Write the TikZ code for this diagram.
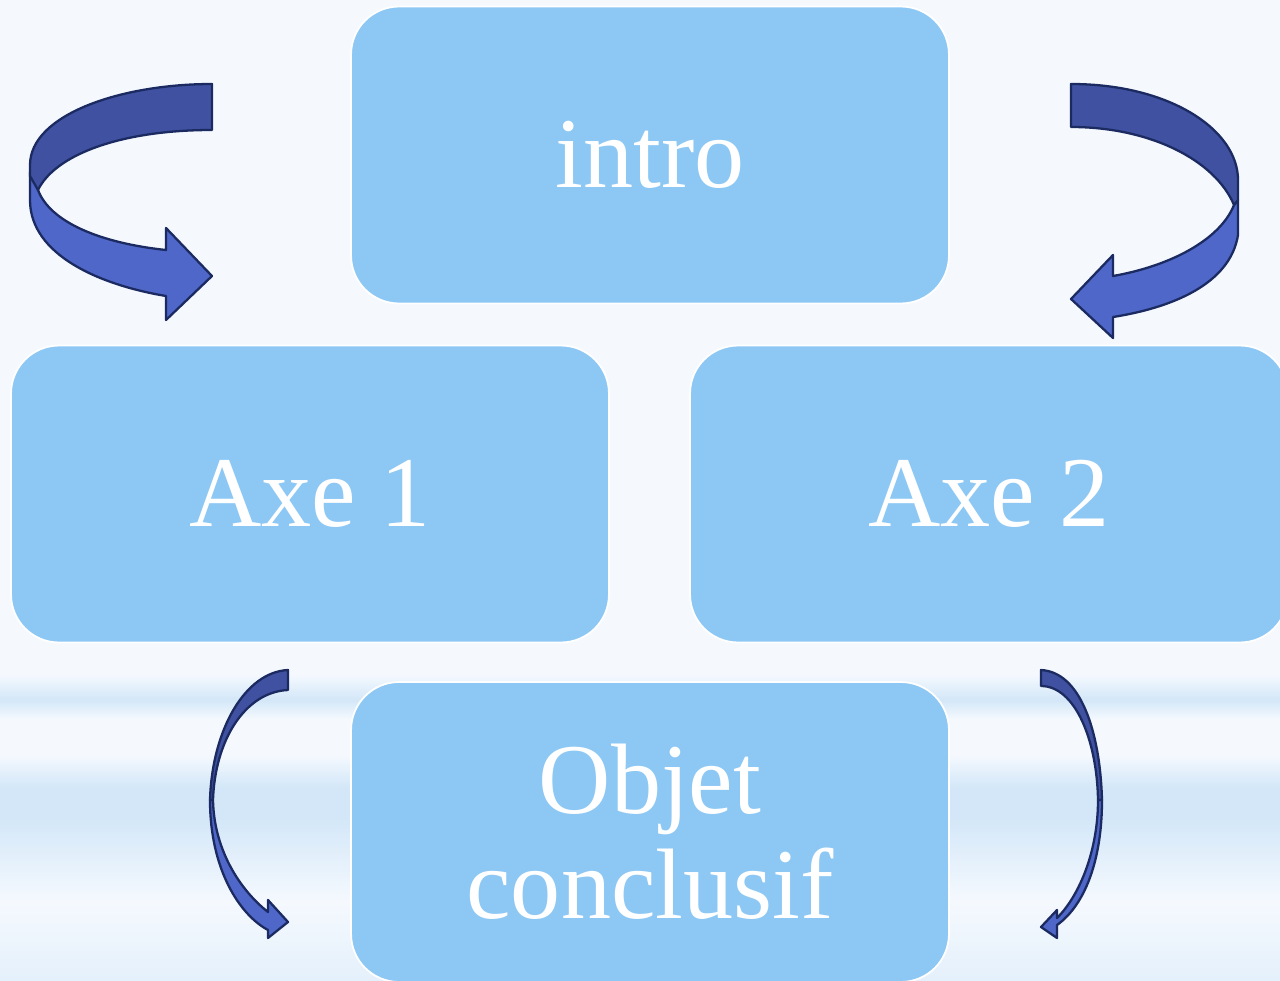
\documentclass[tikz,border=0pt]{standalone}
\usepackage{fontspec}
\setmainfont{Liberation Serif}
\definecolor{boxblue}{HTML}{8DC8F5}
\definecolor{backface}{HTML}{3F51A0}
\definecolor{frontface}{HTML}{4F67C8}
\definecolor{rim}{HTML}{1B2A60}
\definecolor{bgA}{HTML}{F5F9FE}
\definecolor{bgB}{HTML}{D3E7F8}
\definecolor{bgC}{HTML}{E4F0FB}
\pgfdeclareverticalshading{bgband}{100bp}{color(0bp)=(bgC); color(25bp)=(bgC);
  color(29bp)=(bgA); color(33.3bp)=(bgB); color(34.8bp)=(bgB); color(36.5bp)=(bgA);
  color(38.3bp)=(bgA); color(39.3bp)=(bgB); color(40.6bp)=(bgA); color(100bp)=(bgA)}
\begin{document}
\begin{tikzpicture}[x=0.02cm,y=-0.02cm,
    stage/.style={draw=white,line width=1pt,fill=boxblue,rounded corners=0.96cm,
      minimum width=11.96cm,minimum height=5.94cm,text=white,align=center,
      font=\fontsize{57}{60}\selectfont},
    back/.style={fill=backface,draw=rim,line width=1.3pt,line join=round},
    front/.style={fill=frontface,draw=rim,line width=1.3pt,line join=round}]
  \useasboundingbox (0,0) rectangle (1280,980);
  \shade[shading=bgband] (0,0) rectangle (1280,980);
  % boxes
  \node[stage] (intro) at (650,155) {intro};
  \node[stage] (axe1) at (310,494) {Axe 1};
  \node[stage] (axe2) at (989,494) {Axe 2};
  \node[stage,minimum height=6cm] (objet) at (650,832) {Objet\\conclusif};
  % top left arrow
  \draw[front] (30,172) -- (30,200) .. controls (30,255) and (100,285) .. (166,296)
    -- (166,320) -- (212,276) -- (166,228) -- (166,250)
    .. controls (100,243) and (50,222) .. (38,190) -- cycle;
  \draw[back] (212,84) -- (212,130) .. controls (120,130) and (55,155) .. (38,190)
    -- (30,176) -- (30,165) .. controls (30,115) and (120,84) .. cycle;
  % top right arrow
  \draw[front] (1234,205) -- (1238,200) -- (1238,235) .. controls (1230,285) and (1170,308) .. (1113,317)
    -- (1113,338) -- (1071,299) -- (1113,255) -- (1113,276)
    .. controls (1170,266) and (1220,240) .. cycle;
  \draw[back] (1071,84) .. controls (1170,84) and (1238,130) .. (1238,180) -- (1238,200)
    -- (1234,205) .. controls (1215,160) and (1150,127) .. (1071,127) -- cycle;
  % bottom left arrow
  \draw[back] (288,670) -- (288,690) .. controls (245,692) and (215,740) .. (213,800)
    -- (210,800) .. controls (212,730) and (245,672) .. cycle;
  \draw[front] (210,800) .. controls (210,870) and (240,915) .. (268,930)
    -- (268,938) -- (288,922) -- (268,900) -- (268,912)
    .. controls (240,890) and (214,850) .. (213,800) -- cycle;
  % bottom right arrow
  \draw[back] (1041,670) .. controls (1080,672) and (1100,730) .. (1102,800)
    -- (1098,800) .. controls (1097,740) and (1075,686) .. (1041,686) -- cycle;
  \draw[front] (1102,800) .. controls (1102,860) and (1085,905) .. (1057,925)
    -- (1057,938) -- (1041,927) -- (1057,910) -- (1057,918)
    .. controls (1080,895) and (1098,850) .. (1098,800) -- cycle;
\end{tikzpicture}
\end{document}
